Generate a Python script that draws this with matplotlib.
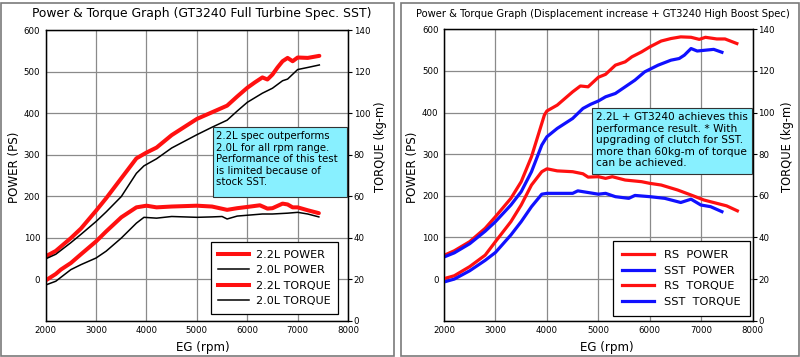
import matplotlib
matplotlib.use("Agg")
import matplotlib.pyplot as plt
from matplotlib.patches import Rectangle
from matplotlib.lines import Line2D

plt.rcParams['font.family'] = ['DejaVu Sans']

# ---- left chart: GT3240 full turbine spec, SST ----
rpm_22p = [2000, 2200, 2500, 2700, 3000, 3200, 3500, 3800, 4000, 4200, 4500, 5000, 5300, 5600,
           5800, 6000, 6150, 6300, 6400, 6500, 6600, 6700, 6800, 6900, 7000, 7200, 7430]
power_22 = [55, 68, 99, 122, 165, 195, 243, 291, 305, 317, 347, 386, 402, 418,
            440, 461, 474, 486, 481, 493, 510, 525, 533, 525, 534, 533, 538]
rpm_20p = [2000, 2200, 2500, 2700, 3000, 3200, 3500, 3800, 3950, 4200, 4500, 5000, 5300, 5600,
           5800, 6000, 6300, 6500, 6700, 6800, 7000, 7200, 7430]
power_20 = [49, 60, 88, 108, 139, 162, 199, 255, 273, 290, 316, 348, 366, 383,
            405, 426, 448, 460, 478, 482, 505, 510, 516]
rpm_22t = [2000, 2200, 2300, 2500, 2700, 3000, 3200, 3500, 3800, 4000, 4200, 4500, 5000, 5300,
           5600, 5800, 6000, 6250, 6400, 6500, 6700, 6800, 6900, 7000, 7200, 7420]
torque_22 = [19.4, 22.5, 24.6, 27.8, 32.0, 38.2, 43.0, 49.8, 54.6, 55.4, 54.6, 55.0, 55.4, 55.0,
             53.4, 54.2, 54.8, 55.6, 54.0, 54.2, 56.4, 56.0, 54.6, 54.6, 53.2, 51.8]
rpm_20t = [2000, 2200, 2500, 2700, 3000, 3200, 3500, 3800, 3950, 4200, 4500, 5000, 5300, 5500,
           5600, 5800, 6000, 6300, 6500, 6800, 7000, 7200, 7420]
torque_20 = [17.2, 19.0, 24.6, 27.0, 30.2, 33.5, 39.8, 47.0, 49.8, 49.4, 50.2, 49.8, 50.0, 50.2,
             49.0, 50.4, 50.8, 51.4, 51.4, 51.8, 52.2, 51.4, 50.0]

# ---- right chart: displacement increase + GT3240 high boost ----
rpm_rsp = [2000, 2200, 2500, 2800, 3000, 3300, 3500, 3700, 3850, 3950, 4000, 4200, 4500, 4650,
           4800, 5000, 5140, 5330, 5520, 5650, 5840, 6000, 6220, 6410, 6600, 6800, 6960, 7080,
           7300, 7460, 7690]
power_rs = [57, 68, 90, 122, 150, 194, 234, 294, 354, 394, 404, 418, 450, 464,
            462, 485, 492, 514, 522, 534, 546, 558, 572, 578, 582, 581, 576, 581,
            577, 577, 566]
rpm_sstp = [2000, 2200, 2500, 2800, 3000, 3300, 3500, 3700, 3900, 4000, 4200, 4500, 4700, 4850,
            5000, 5140, 5330, 5520, 5710, 5900, 6160, 6410, 6570, 6670, 6800, 6920, 7080, 7240,
            7400]
power_sst = [53, 63, 85, 115, 138, 178, 210, 258, 322, 342, 362, 386, 410, 420,
             428, 438, 446, 462, 478, 498, 514, 526, 530, 538, 554, 548, 550, 552,
             545]
rpm_rst = [2000, 2200, 2500, 2800, 3000, 3300, 3500, 3700, 3900, 4000, 4200, 4500, 4700, 4800,
           5000, 5140, 5270, 5520, 5840, 6000, 6220, 6540, 6800, 7050, 7300, 7490, 7700]
torque_rs = [20.2, 21.6, 26.0, 31.5, 38.0, 47.6, 55.6, 65.2, 71.6, 73.0, 72.0, 71.6, 70.6, 69.0,
             69.2, 68.4, 69.2, 67.6, 66.8, 66.0, 65.2, 62.8, 60.4, 58.0, 56.4, 55.2, 52.8]
rpm_sstt = [2000, 2200, 2500, 2800, 3000, 3300, 3500, 3700, 3900, 4000, 4300, 4500, 4600, 4800,
            5000, 5140, 5330, 5590, 5710, 6000, 6290, 6600, 6800, 6990, 7180, 7400]
torque_sst = [18.6, 20.0, 24.0, 29.0, 32.8, 41.2, 47.6, 54.8, 60.8, 61.2, 61.2, 61.2, 62.4, 61.6,
              60.8, 61.2, 59.6, 58.8, 60.2, 59.6, 58.8, 56.8, 58.4, 55.6, 54.8, 52.4]

titles = ['Power & Torque Graph (GT3240 Full Turbine Spec. SST)',
          'Power & Torque Graph (Displacement increase + GT3240 High Boost Spec)']
notes = ['2.2L spec outperforms\n2.0L for all rpm range.\nPerformance of this test\n'
         'is limited because of\nstock SST.',
         '2.2L + GT3240 achieves this\nperformance result. * With\nupgrading of clutch for SST.\n'
         'more than 60kg-m of torque\ncan be achieved.']
labels_left = ['2.2L POWER', '2.0L POWER', '2.2L TORQUE', '2.0L TORQUE']
labels_right = ['RS  POWER', 'SST  POWER', 'RS  TORQUE', 'SST  TORQUE']

RED = '#ff1010'
BLUE = '#1010ff'
CYAN = '#88f0ff'
GRID = '#8a8a8a'

fig = plt.figure(figsize=(8, 3.57), dpi=100)

# panel frames
for x0, x1 in [(1, 394), (401, 799)]:
    fig.patches.append(Rectangle((x0 / 800, 1.5 / 357), (x1 - x0) / 800, 353 / 357,
                                 transform=fig.transFigure, fill=False,
                                 edgecolor='#7a7a7a', lw=1.2))


def setup(ax):
    ax.set_xlim(2000, 8000)
    ax.set_ylim(-100, 600)
    ax.set_xticks(range(2000, 8001, 1000))
    ax.set_yticks(range(-100, 601, 100))
    ax.set_yticklabels(['', '0', '100', '200', '300', '400', '500', '600'])
    ax.grid(True, color=GRID, lw=0.9)
    ax.tick_params(axis='both', length=0, labelsize=6.2, pad=4)
    for s in ax.spines.values():
        s.set_linewidth(1.0)
    ax2 = ax.twinx()
    ax2.set_ylim(0, 140)
    ax2.set_yticks(range(0, 141, 20))
    ax2.tick_params(axis='y', length=3, labelsize=6.2, pad=1)
    return ax2


axL = fig.add_axes([0.0571, 0.1017, 0.378, 0.814])
axL2 = setup(axL)
axL.plot(rpm_22p, power_22, color=RED, lw=2.9, solid_capstyle='round')
axL.plot(rpm_20p, power_20, color='black', lw=1.1)
axL2.plot(rpm_22t, torque_22, color=RED, lw=2.9, solid_capstyle='round')
axL2.plot(rpm_20t, torque_20, color='black', lw=1.1)

axR = fig.add_axes([0.555, 0.1017, 0.386, 0.816])
axR2 = setup(axR)
axR.plot(rpm_rsp, power_rs, color=RED, lw=2.3)
axR.plot(rpm_sstp, power_sst, color=BLUE, lw=2.3)
axR2.plot(rpm_rst, torque_rs, color=RED, lw=2.3)
axR2.plot(rpm_sstt, torque_sst, color=BLUE, lw=2.3)

# titles and axis labels
fig.text(0.252, 0.962, titles[0], ha='center', va='center', fontsize=8.9)
fig.text(0.753, 0.962, titles[1], ha='center', va='center', fontsize=7.2)
for xc in (0.254, 0.759):
    fig.text(xc, 0.028, 'EG (rpm)', ha='center', va='center', fontsize=8.6)
for xp, xt in ((0.018, 0.476), (0.516, 0.985)):
    fig.text(xp, 0.53, 'POWER (PS)', ha='center', va='center', rotation=90, fontsize=8.6)
    fig.text(xt, 0.59, 'TORQUE (kg-m)', ha='center', va='center', rotation=90, fontsize=8.3)

# note boxes
for (bx0, bx1, by0, by1), note, fs, ls in (
        ((213, 347, 197, 127), notes[0], 7.3, 1.2),
        ((592, 752, 174, 108), notes[1], 7.6, 1.2)):
    x0, w = bx0 / 800, (bx1 - bx0) / 800
    y0, h = 1 - by0 / 357, (by0 - by1) / 357
    fig.patches.append(Rectangle((x0, y0), w, h, transform=fig.transFigure,
                                 facecolor=CYAN, edgecolor='#333333', lw=0.8, zorder=5))
    fig.text(x0 + 3.5 / 800, y0 + h - 4 / 357, note, ha='left', va='top', fontsize=fs,
             linespacing=ls, zorder=6)

# legends
h_left = [Line2D([], [], color=RED, lw=2.9), Line2D([], [], color='black', lw=1.1),
          Line2D([], [], color=RED, lw=2.9), Line2D([], [], color='black', lw=1.1)]
h_right = [Line2D([], [], color=c, lw=2.3) for c in (RED, BLUE, RED, BLUE)]
for ax2, handles, labels, anchor, fs, hl, htp, bp in (
        (axL2, h_left, labels_left, (0.967, 0.023), 8.0, 2.8, 0.55, 0.7),
        (axR2, h_right, labels_right, (0.991, 0.016), 8.2, 2.8, 0.9, 0.8)):
    leg = ax2.legend(handles, labels, loc='lower right', bbox_to_anchor=anchor,
                     borderaxespad=0, fontsize=fs, handlelength=hl, handletextpad=htp,
                     labelspacing=0.5, borderpad=bp, fancybox=False,
                     framealpha=1, edgecolor='black')
    leg.get_frame().set_linewidth(0.9)

fig.savefig('out.png', dpi=100)
